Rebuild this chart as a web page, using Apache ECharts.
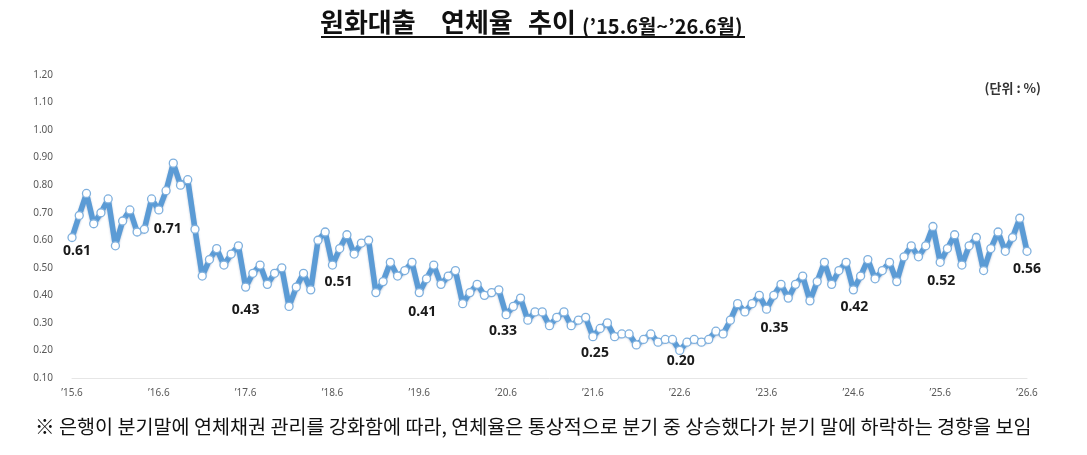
<!DOCTYPE html>
<html>
<head>
<meta charset="utf-8">
<script src="https://cdn.jsdelivr.net/npm/echarts@6/dist/echarts.min.js"></script>
<style>
html,body{margin:0;padding:0;background:#fff;}
#chart{width:1087px;height:455px;}
</style>
</head>
<body>
<div id="chart"></div>
<script>
// ---- data (monthly, '15.6 ~ '26.6) ----
const rates2015_16 = [0.61,0.69,0.77,0.66,0.70,0.75,0.58,0.67,0.71,0.63,0.64,0.75,0.71]; // '15.6 ~ '16.6
const rates2016_17 = [0.78,0.88,0.80,0.82,0.64,0.47,0.53,0.57,0.51,0.55,0.58,0.43];      // '16.7 ~ '17.6
const rates2017_18 = [0.48,0.51,0.44,0.48,0.50,0.36,0.43,0.48,0.42,0.60,0.63,0.51];      // '17.7 ~ '18.6
const rates2018_19 = [0.57,0.62,0.55,0.59,0.60,0.41,0.45,0.52,0.47,0.49,0.52,0.41];      // '18.7 ~ '19.6
const rates2019_20 = [0.46,0.51,0.44,0.47,0.49,0.37,0.41,0.44,0.40,0.41,0.42,0.33];      // '19.7 ~ '20.6
const rates2020_21 = [0.36,0.39,0.31,0.34,0.34,0.29,0.32,0.34,0.29,0.31,0.32,0.25];      // '20.7 ~ '21.6
const rates2021_22 = [0.28,0.30,0.25,0.26,0.26,0.22,0.24,0.26,0.23,0.24,0.24,0.20];      // '21.7 ~ '22.6
const rates2022_23 = [0.23,0.24,0.23,0.24,0.27,0.26,0.31,0.37,0.34,0.37,0.40,0.35];      // '22.7 ~ '23.6
const rates2023_24 = [0.40,0.44,0.39,0.44,0.47,0.38,0.45,0.52,0.44,0.49,0.52,0.42];      // '23.7 ~ '24.6
const rates2024_25 = [0.47,0.53,0.46,0.49,0.52,0.45,0.54,0.58,0.54,0.58,0.65,0.52];      // '24.7 ~ '25.6
const rates2025_26 = [0.57,0.62,0.51,0.58,0.61,0.49,0.57,0.63,0.56,0.61,0.68,0.56];      // '25.7 ~ '26.6

const rates = [].concat(rates2015_16, rates2016_17, rates2017_18, rates2018_19, rates2019_20,
  rates2020_21, rates2021_22, rates2022_23, rates2023_24, rates2024_25, rates2025_26);

const tickLabels = ["’15.6","’16.6","’17.6","’18.6","’19.6","’20.6","’21.6","’22.6","’23.6","’24.6","’25.6","’26.6"];

const titleMain = ["원화대출","연체율","추이"];
const titleSub = "(’15.6월~’26.6월)";
const unitText = "(단위 : %)";
const noteText = "※ 은행이 분기말에 연체채권 관리를 강화함에 따라, 연체율은 통상적으로 분기 중 상승했다가 분기 말에 하락하는 경향을 보임";

// categories: one per month starting '15.6
const categories = rates.map((v, i) => {
  const m = (5 + i) % 12 + 1;
  const y = 15 + Math.floor((5 + i) / 12);
  return "’" + y + "." + m;
});

// label offsets for June (annotated) points — styling only
const labelOffsets = [[5,-3],[9,2],[0,6],[6,0],[3,3],[-3,0],[2,0],[1,-6],[8,2],[1,1],[1,2],[0,1]];

const seriesData = rates.map((v, i) => {
  if (i % 12 === 0) {
    const k = i / 12;
    return {
      value: v,
      label: {
        show: true,
        position: 'bottom',
        distance: 5,
        offset: labelOffsets[k],
        formatter: (p) => p.value.toFixed(2),
        fontSize: 14,
        fontWeight: 'bold',
        color: '#1a1a1a',
        fontFamily: 'Noto Sans'
      }
    };
  }
  return v;
});

const chart = echarts.init(document.getElementById('chart'), null, {renderer: 'canvas'});
const FONT = '"Noto Sans CJK KR", "Noto Sans", sans-serif';

chart.setOption({
  backgroundColor: '#ffffff',
  animation: false,
  grid: {left: 72, right: 60, top: 75, bottom: 77, containLabel: false},
  xAxis: {
    type: 'category',
    data: categories,
    boundaryGap: false,
    axisLine: {show: true, lineStyle: {color: '#e6e6e6', width: 1}},
    axisTick: {show: false},
    axisLabel: {
      interval: 11,
      margin: 10,
      fontSize: 10,
      color: '#595959',
      fontFamily: 'Noto Sans',
      formatter: (val, idx) => tickLabels[idx / 12]
    },
    splitLine: {show: false}
  },
  yAxis: {
    type: 'value',
    min: 0.1,
    max: 1.2,
    interval: 0.1,
    axisLine: {show: false},
    axisTick: {show: false},
    splitLine: {show: false},
    axisLabel: {
      margin: 19,
      fontSize: 10,
      color: '#595959',
      fontFamily: 'Noto Sans',
      formatter: (v) => v.toFixed(2)
    }
  },
  series: [{
    type: 'line',
    data: seriesData,
    symbol: 'circle',
    symbolSize: 8,
    showAllSymbol: true,
    lineStyle: {color: '#5b9bd5', width: 5.5, shadowColor: 'rgba(40,80,140,0.35)', shadowBlur: 2, shadowOffsetY: 1},
    itemStyle: {color: '#ffffff', borderColor: '#7fb0de', borderWidth: 1.3},
    emphasis: {disabled: true},
    z: 3
  }],
  graphic: [
    {type: 'text', style: {x: 320, y: 22, text: titleMain[0], font: 'bold 26px ' + FONT, fill: '#111', verticalAlign: 'middle'}},
    {type: 'text', style: {x: 441, y: 22, text: titleMain[1], font: 'bold 26px ' + FONT, fill: '#111', verticalAlign: 'middle'}},
    {type: 'text', style: {x: 528, y: 22, text: titleMain[2], font: 'bold 26px ' + FONT, fill: '#111', verticalAlign: 'middle'}},
    {type: 'text', style: {x: 582, y: 26, text: titleSub, font: 'bold 20px ' + FONT, fill: '#111', verticalAlign: 'middle'}},
    {type: 'line', shape: {x1: 321, y1: 37, x2: 745, y2: 37}, style: {stroke: '#111', lineWidth: 2}},
    {type: 'text', style: {x: 1041, y: 88, text: unitText, font: 'bold 13px ' + FONT, fill: '#333', align: 'right', verticalAlign: 'middle'}},
    {type: 'text', style: {x: 35, y: 427, text: noteText, font: '19.6px ' + FONT, fill: '#111', verticalAlign: 'middle'}}
  ]
});
</script>
</body>
</html>
